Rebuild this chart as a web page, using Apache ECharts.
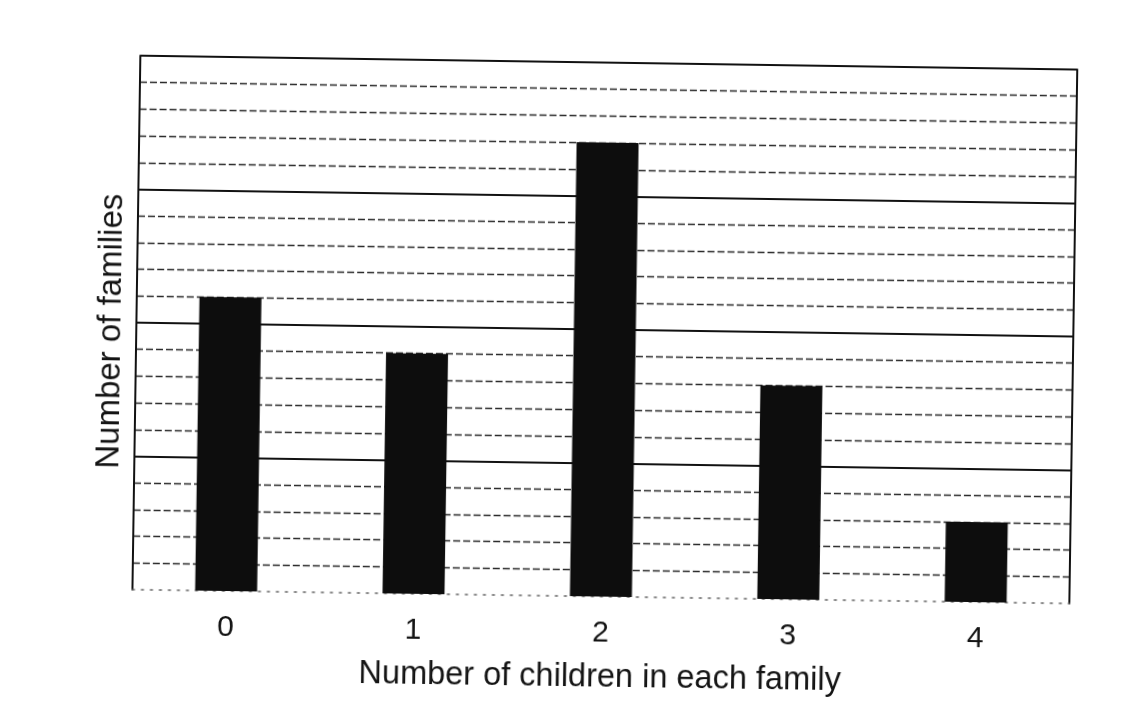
<!DOCTYPE html>
<html>
<head>
<meta charset="utf-8">
<script src="https://cdn.jsdelivr.net/npm/echarts@6/dist/echarts.min.js"></script>
<style>
  html, body { margin: 0; padding: 0; background: #ffffff; }
  #chart { width: 1130px; height: 705px; transform: rotate(0.85deg); transform-origin: 50% 50%; }
</style>
</head>
<body>
<div id="chart"></div>
<script>
const categories = ['0', '1', '2', '3', '4'];
const families = [11, 9, 17, 8, 3];
const yMin = 0;
const yMax = 20;
const yInterval = 5;
const xAxisTitle = 'Number of children in each family';
const yAxisTitle = 'Number of families';

const chart = echarts.init(document.getElementById('chart'), null, { renderer: 'canvas' });
const fontFam = '"Liberation Sans", Arial, Helvetica, sans-serif';

chart.setOption({
  backgroundColor: '#ffffff',
  animation: false,
  grid: { left: 136, right: 57, top: 62, bottom: 109, containLabel: false },
  xAxis: {
    type: 'category',
    data: categories,
    name: xAxisTitle,
    nameLocation: 'middle',
    nameGap: 65,
    nameTextStyle: { fontFamily: fontFam, fontSize: 32.5, color: '#141414' },
    axisLine: { show: true, lineStyle: { color: '#666', width: 1.5, type: [2, 7] } },
    axisTick: { show: false },
    axisLabel: { fontFamily: fontFam, fontSize: 30, color: '#141414', margin: 22 },
    splitLine: { show: false }
  },
  yAxis: [
    {
      type: 'value',
      min: yMin,
      max: yMax,
      interval: yInterval,
      name: yAxisTitle,
      nameLocation: 'middle',
      nameGap: 9,
      nameRotate: 90,
      nameTextStyle: { fontFamily: fontFam, fontSize: 33, color: '#141414', padding: [0, 18, 0, 0] },
      axisLine: { show: true, lineStyle: { color: '#111', width: 2 } },
      axisTick: { show: false },
      axisLabel: { show: false },
      splitLine: {
        show: true,
        lineStyle: { color: ['rgba(0,0,0,0)', '#111', '#111', '#111', '#111'], width: 2, type: 'solid' }
      },
      minorTick: { show: false, splitNumber: 5 },
      minorSplitLine: { show: true, lineStyle: { color: '#2a2a2a', width: 1.4, type: [7, 3] } }
    },
    {
      type: 'value',
      min: yMin,
      max: yMax,
      interval: yInterval,
      position: 'right',
      axisLine: { show: true, lineStyle: { color: '#111', width: 2 } },
      axisTick: { show: false },
      axisLabel: { show: false },
      splitLine: { show: false }
    }
  ],
  series: [
    {
      type: 'bar',
      data: families,
      barWidth: 62,
      itemStyle: { color: '#0d0d0d' }
    }
  ]
});
</script>
</body>
</html>
